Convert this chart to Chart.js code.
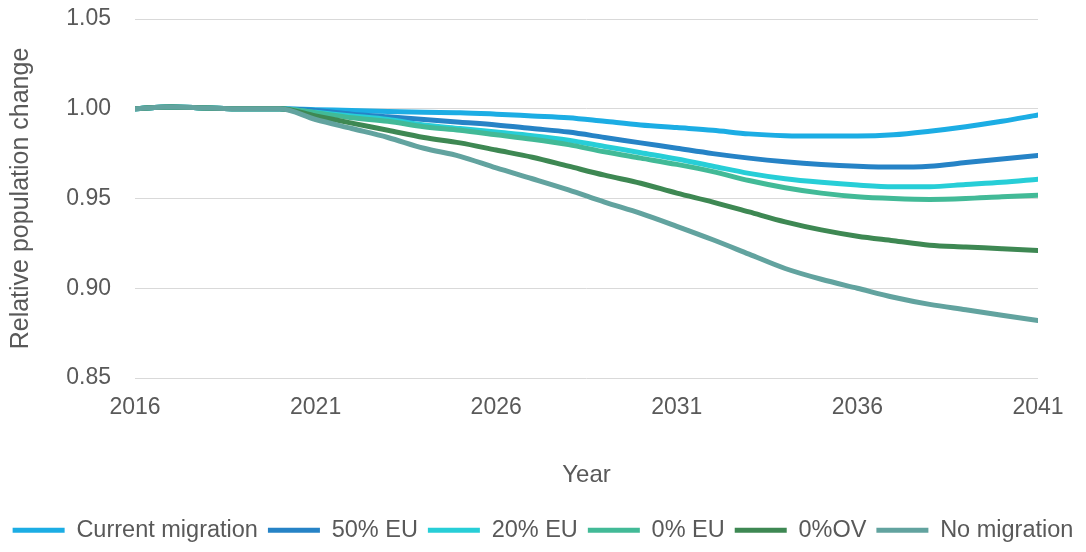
<!DOCTYPE html>
<html lang="en">
<head>
    <meta charset="UTF-8">
    <title>Relative population change</title>
    <style>
        body, html {
            margin: 0;
            padding: 0;
            background-color: #ffffff;
        }
        .wrap {
            width: 1086px;
            height: 552px;
            position: relative;
        }
    </style>
</head>
<body>
    <div class="wrap">
        <canvas id="popChart"></canvas>
    </div>

    <script src="https://cdn.jsdelivr.net/npm/chart.js"></script>
    <script>
        const years = [2016, 2017, 2018, 2019, 2020, 2021, 2022, 2023, 2024, 2025, 2026, 2027, 2028,
                       2029, 2030, 2031, 2032, 2033, 2034, 2035, 2036, 2037, 2038, 2039, 2040, 2041];

        const seriesNames = ['Current migration', '50% EU', '20% EU', '0% EU', '0%OV', 'No migration'];
        const seriesColors = ['#1CADE4', '#2683C6', '#27CED7', '#42BA97', '#3E8853', '#62A39F'];

        const currentMigration = [1.000, 1.001, 1.0004, 1.000, 1.000, 0.9995, 0.999, 0.9985, 0.998, 0.9978, 0.997, 0.996, 0.995,
                                  0.993, 0.991, 0.9895, 0.988, 0.986, 0.985, 0.9848, 0.9848, 0.9855, 0.9875, 0.990, 0.993, 0.9965];
        const eu50 = [1.000, 1.001, 1.0004, 1.000, 1.000, 0.999, 0.997, 0.9955, 0.994, 0.9925, 0.991, 0.989, 0.987,
                      0.984, 0.981, 0.978, 0.975, 0.9725, 0.9705, 0.969, 0.968, 0.9675, 0.968, 0.970, 0.972, 0.974];
        const eu20 = [1.000, 1.001, 1.0004, 1.000, 1.000, 0.998, 0.996, 0.994, 0.991, 0.989, 0.987, 0.985, 0.9825,
                      0.979, 0.9755, 0.972, 0.968, 0.964, 0.961, 0.959, 0.9575, 0.9566, 0.9566, 0.9578, 0.959, 0.9607];
        const eu0 = [1.000, 1.001, 1.0004, 1.000, 1.000, 0.9978, 0.995, 0.993, 0.990, 0.988, 0.9855, 0.983, 0.980,
                     0.976, 0.9725, 0.969, 0.965, 0.960, 0.956, 0.953, 0.951, 0.950, 0.9495, 0.950, 0.951, 0.9518];
        const ov0 = [1.000, 1.001, 1.0004, 1.000, 1.000, 0.996, 0.992, 0.988, 0.984, 0.981, 0.977, 0.973, 0.968,
                     0.963, 0.9585, 0.953, 0.948, 0.9425, 0.937, 0.9325, 0.929, 0.9265, 0.924, 0.923, 0.922, 0.921];
        const noMigration = [1.000, 1.001, 1.0004, 1.000, 1.000, 0.994, 0.989, 0.984, 0.978, 0.9735, 0.967, 0.961, 0.9548,
                             0.948, 0.9417, 0.9345, 0.927, 0.919, 0.911, 0.905, 0.900, 0.895, 0.891, 0.888, 0.885, 0.882];

        const seriesValues = [currentMigration, eu50, eu20, eu0, ov0, noMigration];

        const yTicks = [0.85, 0.90, 0.95, 1.00, 1.05];

        const textColor = '#595959';
        const fontFamily = '"Liberation Sans", Arial, sans-serif';

        const datasets = seriesNames.map(function(name, i) {
            return {
                label: name,
                data: years.map(function(yr, j) { return { x: yr, y: seriesValues[i][j] }; }),
                borderColor: seriesColors[i],
                backgroundColor: seriesColors[i],
                borderWidth: 5,
                borderCapStyle: 'round',
                borderJoinStyle: 'round',
                pointRadius: 0,
                pointHoverRadius: 0,
                cubicInterpolationMode: 'monotone',
                fill: false,
                order: seriesNames.length - 1 - i   // last series drawn on top
            };
        });

        Chart.defaults.font.family = fontFamily;
        Chart.defaults.color = textColor;

        new Chart(document.getElementById('popChart').getContext('2d'), {
            type: 'line',
            data: { datasets: datasets },
            options: {
                responsive: true,
                maintainAspectRatio: false,
                animation: false,
                devicePixelRatio: 1,
                layout: { padding: 0 },
                plugins: {
                    tooltip: { enabled: false },
                    legend: {
                        position: 'bottom',
                        labels: {
                            usePointStyle: true,
                            pointStyle: 'line',
                            pointStyleWidth: 52,
                            padding: 10,
                            color: textColor,
                            font: { size: 23.5 },
                            sort: function(a, b) { return a.datasetIndex - b.datasetIndex; }
                        }
                    }
                },
                scales: {
                    x: {
                        type: 'linear',
                        min: 2016,
                        max: 2041,
                        grid: { display: false, drawTicks: false },
                        border: { display: false },
                        ticks: {
                            stepSize: 5,
                            padding: 16,
                            maxRotation: 0,
                            font: { size: 23 },
                            color: textColor,
                            callback: function(v) { return String(v); }
                        },
                        title: {
                            display: true,
                            text: 'Year',
                            font: { size: 24 },
                            color: textColor,
                            padding: { top: 0, bottom: 19 }
                        },
                        afterFit: function(scale) {
                            scale.height = 130.5;
                            scale.paddingRight = 48;
                        }
                    },
                    y: {
                        min: 0.85,
                        max: 1.05,
                        grid: { color: '#d9d9d9', lineWidth: 1, drawTicks: false },
                        border: { display: false },
                        afterBuildTicks: function(scale) {
                            scale.ticks = yTicks.map(function(v) { return { value: v }; });
                        },
                        ticks: {
                            padding: 24,
                            font: { size: 23 },
                            color: textColor,
                            callback: function(v) { return Number(v).toFixed(2); }
                        },
                        title: {
                            display: true,
                            text: 'Relative population change',
                            font: { size: 25 },
                            color: textColor,
                            padding: { top: 6, bottom: 0 }
                        },
                        afterFit: function(scale) {
                            scale.width = 135;
                            scale.paddingTop = 19;
                        }
                    }
                }
            }
        });
    </script>
</body>
</html>
